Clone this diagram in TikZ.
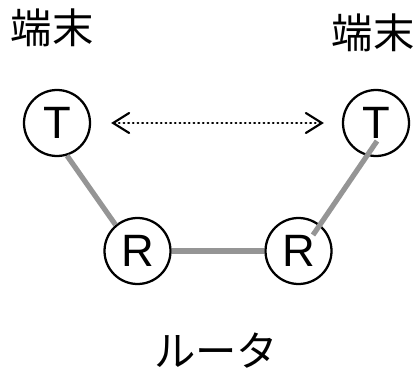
\documentclass[tikz,border=0pt]{standalone}
\usepackage{fontspec}
\setmainfont{Liberation Sans}
\newfontfamily\jpfont{Noto Sans CJK JP}
\usetikzlibrary{arrows.meta,calc}
\definecolor{linkgray}{HTML}{959595}
\tikzset{
  dev/.style={circle, draw=black, line width=1.7pt, fill=white, minimum size=49.5pt, inner sep=0pt, font=\fontsize{34pt}{34pt}\selectfont},
  lbl/.style={inner sep=0pt, font=\jpfont\fontsize{31pt}{31pt}\selectfont},
  link/.style={draw=linkgray, line width=3.9pt},
  peer/.style={line width=1.6pt, dash pattern=on 0.6pt off 2.9pt, line cap=round,
    {Straight Barb[length=12pt,width=15pt,line cap=round]}-{Straight Barb[length=12pt,width=15pt,line cap=round]}}
}
\begin{document}
\begin{tikzpicture}[x=0.75pt,y=-0.75pt]
\useasboundingbox (0,0) rectangle (420,370);
\node[dev] (t1) at (57,123) {T};
\node[dev] (t2) at (376,123) {T};
\node[dev] (r1) at (137.5,251) {R};
\node[dev] (r2) at (298.5,251) {R};
\node[lbl] (l1) at (52,28) {端末};
\node[lbl] (l2) at (373,33) {端末};
\node[lbl] (l3) at (216,351) {ルータ};
\draw[link] (t1.-73) -- (r1.130);
\draw[link] (r1) -- (r2);
\draw[link] ($(t2.center)+(1,18)$) -- ($(r2.center)+(14.5,-16)$);
\draw[peer] ($(t1.east)+(20,0)$) -- ($(t2.west)+(-18,0)$);
\end{tikzpicture}
\end{document}
